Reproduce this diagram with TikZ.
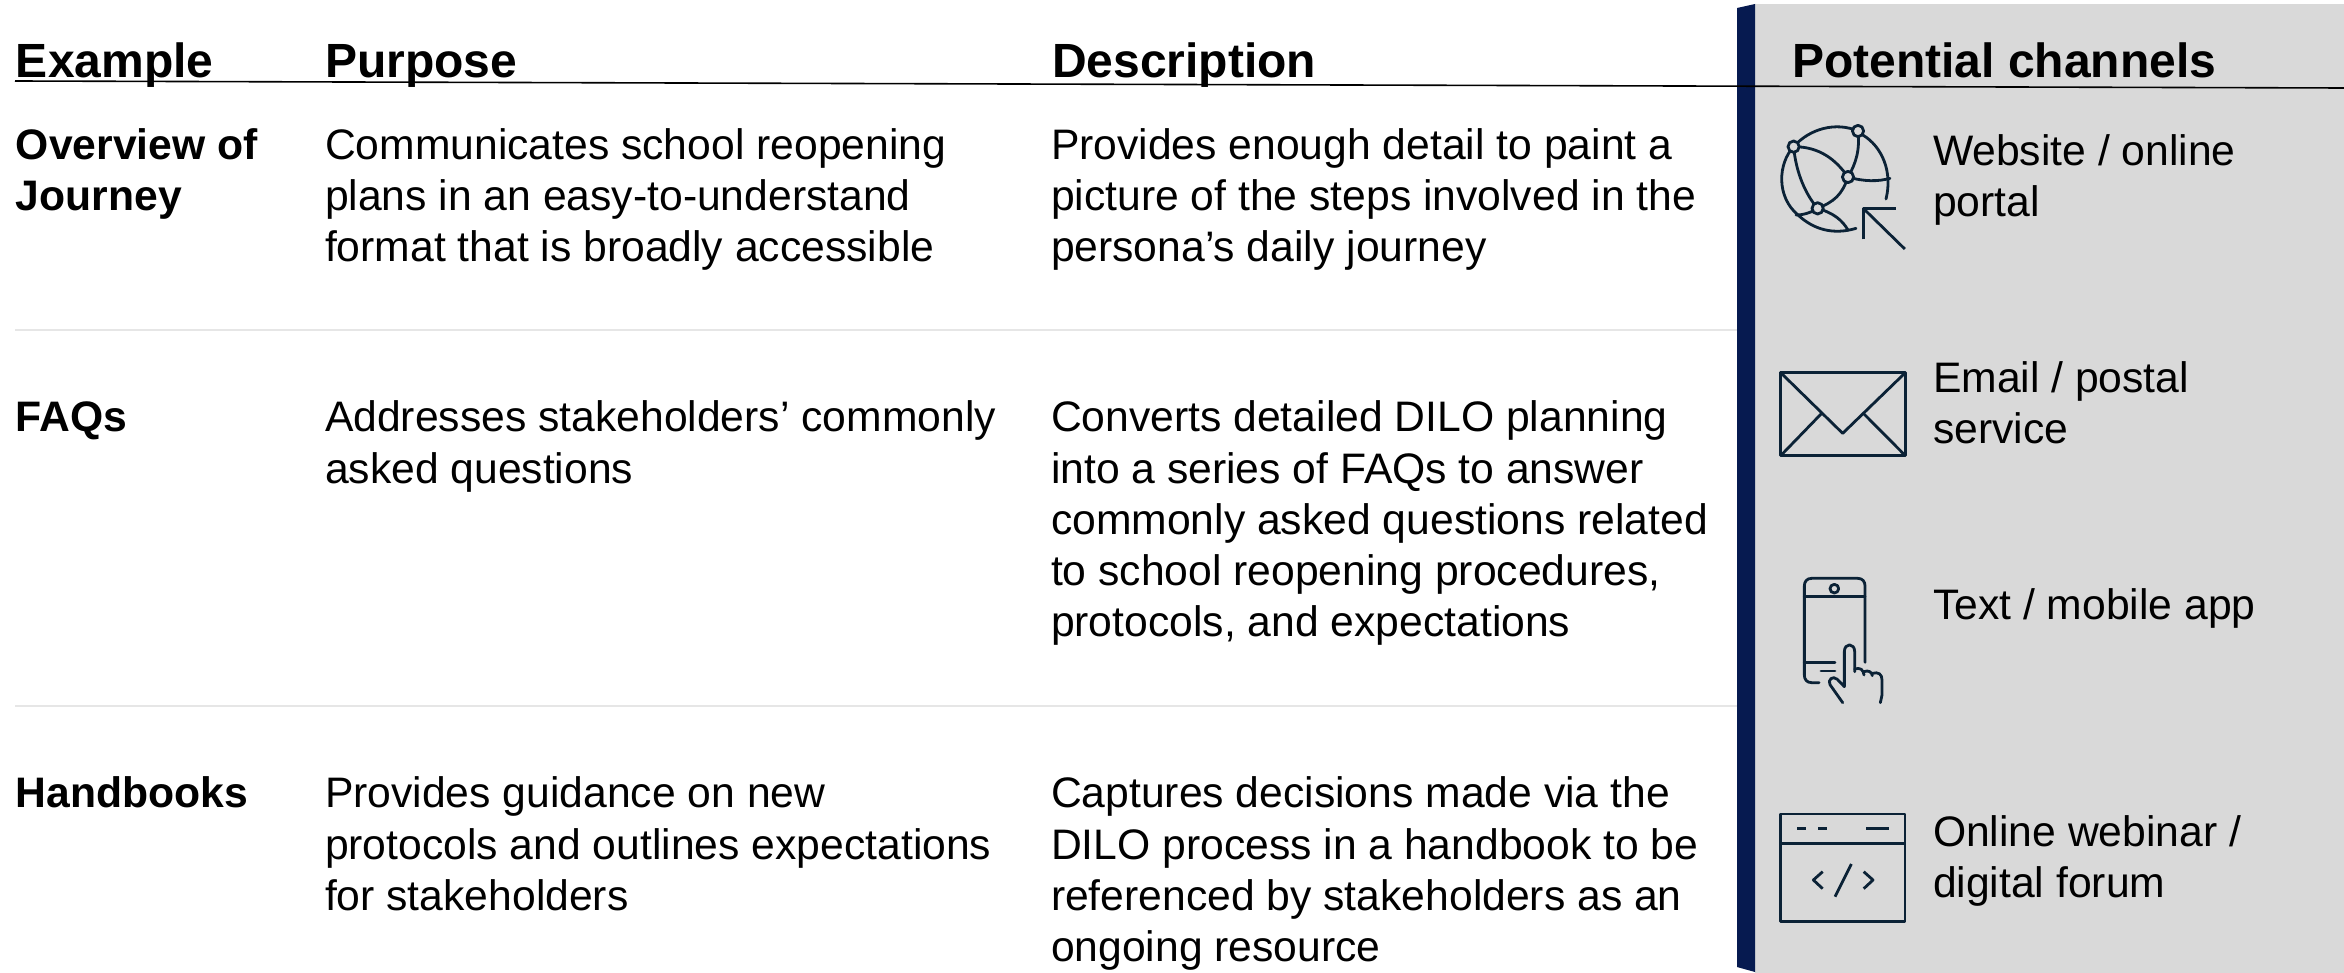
\documentclass[tikz,border=0pt]{standalone}
\usepackage{fontspec}
\setmainfont{Liberation Sans}
\definecolor{navybar}{HTML}{061A50}
\definecolor{panelgray}{HTML}{D9D9D9}
\definecolor{iconink}{HTML}{0B2236}
\definecolor{sepgray}{HTML}{E6E6E6}
\newcommand{\fl}{\rule{0pt}{15pt}}
\tikzset{
  body/.style={anchor=north west,inner sep=0pt,outer sep=0pt,align=left,text=black,font=\fontsize{21.33}{25.6}\selectfont},
  rowhead/.style={body,font=\fontsize{21.33}{25.6}\selectfont\bfseries},
  colhead/.style={anchor=base west,inner sep=0pt,outer sep=0pt,text=black,font=\fontsize{24}{28}\selectfont\bfseries},
  iconline/.style={draw=iconink,line width=1.4pt,line cap=round,line join=round},
  iconscope/.style={x=0.16667pt,y=-0.16667pt},
  globescope/.style={x=0.2pt,y=-0.16667pt},
  hub/.style={iconline,fill=panelgray}
}
\begin{document}
\begin{tikzpicture}[x=0.5pt,y=-0.5pt]
\useasboundingbox (0,0) rectangle (2344,973);
\fill[white] (0,0) rectangle (2344,973);
% panel and bar
\fill[panelgray] (1755,4) rectangle (2344,973);
\fill[navybar] (1737,8) -- (1755,4) -- (1755,972) -- (1737,967) -- cycle;
% rules
\draw[black,line width=0.8pt] (15,81) -- (2344,88);
\draw[sepgray,line width=0.6pt] (15,330) -- (1737,330);
\draw[sepgray,line width=0.6pt] (15,706) -- (1737,706);
% column headers
\node[colhead] (hExample) at (16,77.5) {Example};
\node[colhead] (hPurpose) at (325,77.5) {Purpose};
\node[colhead] (hDescription) at (1052,77.5) {Description};
\node[colhead] (hChannels) at (1792,77.5) {Potential channels};
% row 1
\node[rowhead] (r1a) at (16,128.5) {\fl Overview of\\Journey};
\node[body] (r1b) at (325,128.5) {\fl Communicates school reopening\\plans in an easy-to-understand\\format that is broadly accessible};
\node[body] (r1c) at (1051,128.5) {\fl Provides enough detail to paint a\\picture of the steps involved in the\\persona’s daily journey};
% row 2
\node[rowhead] (r2a) at (16,401) {\fl FAQs};
\node[body] (r2b) at (325,401) {\fl Addresses stakeholders’ commonly\\asked questions};
\node[body] (r2c) at (1051,401) {\fl Converts detailed DILO planning\\into a series of FAQs to answer\\commonly asked questions related\\to school reopening procedures,\\protocols, and expectations};
% row 3
\node[rowhead] (r3a) at (16,777) {\fl Handbooks};
\node[body] (r3b) at (325,777) {\fl Provides guidance on new\\protocols and outlines expectations\\for stakeholders};
\node[body] (r3c) at (1051,777) {\fl Captures decisions made via the\\DILO process in a handbook to be\\referenced by stakeholders as an\\ongoing resource};
% channels
\node[body] (c1) at (1933,134.5) {\fl Website / online\\portal};
\node[body] (c2) at (1933,361.5) {\fl Email / postal\\service};
\node[body] (c3) at (1933,589) {\fl Text / mobile app};
\node[body] (c4) at (1933,815.5) {\fl Online webinar /\\digital forum};
% globe icon
\begin{scope}[shift={(1720,0)},globescope]
\draw[iconline] (357,405) .. controls (405,440) and (432,515) .. (415,597);
\draw[iconline] (184,440) .. controls (225,385) and (290,365) .. (345,393);
\draw[iconline] (184,440) .. controls (145,490) and (140,590) .. (195,645) .. controls (235,690) and (285,705) .. (340,685);
\draw[iconline] (184,440) .. controls (190,520) and (215,585) .. (244,625);
\draw[iconline] (184,440) .. controls (250,440) and (290,480) .. (320,531);
\draw[iconline] (345,393) .. controls (350,450) and (340,490) .. (320,531);
\draw[iconline] (320,531) .. controls (360,545) and (395,545) .. (425,535);
\draw[iconline] (320,531) .. controls (305,585) and (285,605) .. (244,625);
\draw[iconline] (190,645) .. controls (205,645) and (225,640) .. (244,625);
\draw[iconline] (244,625) .. controls (285,640) and (305,660) .. (320,690);
\draw[hub] (345,393) circle[x radius=14,y radius=17];
\draw[hub] (184,440) circle[x radius=14,y radius=17];
\draw[hub] (320,531) circle[x radius=14,y radius=17];
\draw[hub] (244,625) circle[x radius=14,y radius=17];
\draw[iconline,line cap=butt] (358,718) -- (358,625) -- (440,625);
\draw[iconline,line cap=butt] (358,625) -- (462,747);
\end{scope}
% envelope icon
\begin{scope}[shift={(1720,340)},iconscope]
\draw[iconline,line cap=butt] (182,98) rectangle (556,347);
\draw[iconline,line cap=butt] (182,98) -- (368,280) -- (556,98);
\draw[iconline,line cap=butt] (182,347) -- (305,220);
\draw[iconline,line cap=butt] (556,347) -- (430,220);
\end{scope}
% phone icon
\begin{scope}[shift={(1760,560)},iconscope]
\draw[iconline] (177,368) -- (155,368) .. controls (140,368) and (133,358) .. (133,345) -- (133,78) .. controls (133,65) and (140,55) .. (155,55) -- (293,55) .. controls (308,55) and (315,65) .. (315,78) -- (315,307);
\draw[iconline] (133,110) -- (315,110);
\draw[iconline] (223,86) circle[radius=13];
\draw[iconline] (133,307) -- (225,307);
\draw[iconline] (183,333) -- (225,333);
\draw[iconline] (248,428) -- (210,374) .. controls (202,360) and (218,345) .. (232,358) -- (253,380) -- (253,275) .. controls (253,248) and (284,248) .. (284,275) -- (284,335);
\draw[iconline] (284,327) .. controls (300,322) and (310,328) .. (312,345);
\draw[iconline] (312,335) .. controls (325,330) and (335,335) .. (337,347);
\draw[iconline] (337,340) .. controls (355,335) and (366,342) .. (366,360) -- (366,405) -- (361,428);
\end{scope}
% webinar icon
\begin{scope}[shift={(1720,790)},iconscope]
\draw[iconline,line cap=butt] (182,72) rectangle (555,395);
\draw[iconline,line cap=butt] (182,160) -- (555,160);
\draw[iconline,line cap=butt] (231,115) -- (258,115);
\draw[iconline,line cap=butt] (294,115) -- (321,115);
\draw[iconline,line cap=butt] (438,115) -- (507,115);
\draw[iconline,line cap=butt] (308,245) -- (280,270) -- (308,296);
\draw[iconline,line cap=butt] (394,222) -- (345,320);
\draw[iconline,line cap=butt] (431,245) -- (459,270) -- (431,296);
\end{scope}
\end{tikzpicture}
\end{document}
